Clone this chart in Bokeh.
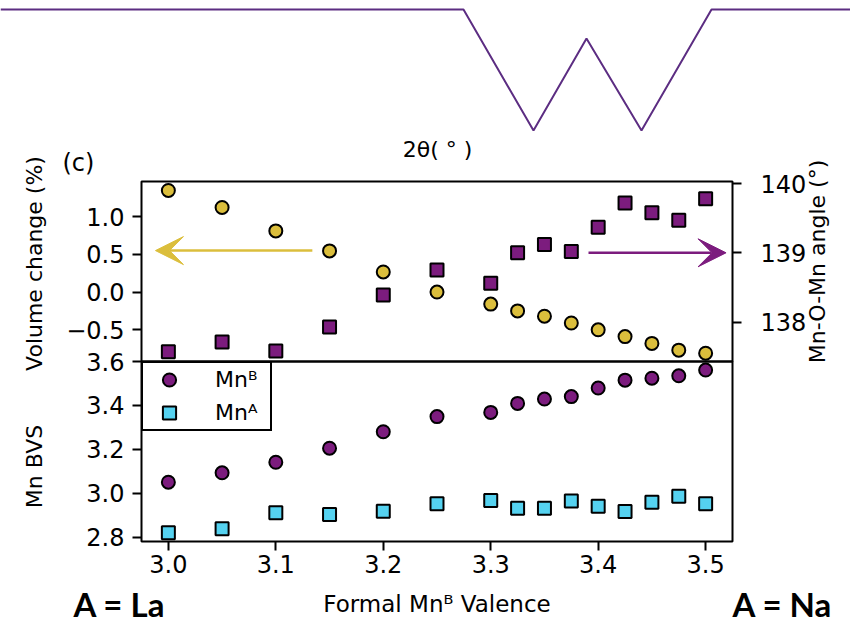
import math
from bokeh.plotting import figure
from bokeh.models import (Range1d, LinearAxis, FixedTicker, Arrow, VeeHead,
                          Legend, LegendItem)
from bokeh.core.properties import value
from bokeh.layouts import column
from bokeh.embed import file_html
from bokeh.resources import INLINE

# ---------------- data ----------------
valence = [3.0, 3.05, 3.1, 3.15, 3.2, 3.25, 3.3, 3.325, 3.35, 3.375, 3.4, 3.425, 3.45, 3.475, 3.5]
volume_change = [1.345, 1.12, 0.81, 0.545, 0.266, 0.0, -0.16, -0.25, -0.32, -0.41, -0.50, -0.59, -0.68, -0.77, -0.81]
mn_o_mn_angle = [137.57, 137.71, 137.58, 137.93, 138.39, 138.75, 138.56, 139.0, 139.12, 139.02, 139.37, 139.72, 139.58, 139.47, 139.78]
bvs_mn_b = [3.05, 3.093, 3.141, 3.205, 3.28, 3.349, 3.368, 3.409, 3.429, 3.44, 3.479, 3.515, 3.524, 3.535, 3.561]
bvs_mn_a = [2.82, 2.838, 2.911, 2.903, 2.918, 2.952, 2.967, 2.932, 2.932, 2.964, 2.941, 2.917, 2.959, 2.986, 2.952]

x_ticks = [3.0, 3.1, 3.2, 3.3, 3.4, 3.5]
x_tick_labels = ["3.0", "3.1", "3.2", "3.3", "3.4", "3.5"]
vol_ticks = [-0.5, 0.0, 0.5, 1.0]
vol_tick_labels = ["\u22120.5", "0.0", "0.5", "1.0"]
angle_ticks = [138, 139, 140]
angle_tick_labels = ["138", "139", "140"]
bvs_ticks = [2.8, 3.0, 3.2, 3.4, 3.6]
bvs_tick_labels = ["2.8", "3.0", "3.2", "3.4", "3.6"]

legend_labels = ["Mn\u1d2e", "Mn\u1d2c"]

# arrows (data space)
vol_arrow_x = [3.134, 2.988]
vol_arrow_y = [0.549, 0.549]
ang_arrow_x = [3.391, 3.519]
ang_arrow_y = [139.0, 139.0]

# decorative banner (page pixel space)
banner_x = [0, 463, 533, 586, 641, 711, 850]
banner_y = [9, 9, 130, 38, 130, 9, 9]

YELLOW = "#DBBE3C"
PURPLE = "#7C1C7E"
CYAN = "#55D2F0"
BANNER = "#5C2D82"
FONT = "DejaVu Sans"


def style_axis(ax, ticks, labels, label_standoff=10, label_size="22px"):
    ax.ticker = FixedTicker(ticks=ticks, minor_ticks=[])
    ax.major_label_overrides = dict(zip(ticks, labels))
    ax.major_tick_out = 9
    ax.major_tick_in = 0
    ax.minor_tick_out = 0
    ax.minor_tick_in = 0
    ax.major_tick_line_width = 2
    ax.major_tick_line_color = "black"
    ax.axis_line_color = None
    ax.major_label_text_font = FONT
    ax.major_label_text_font_size = "24px"
    ax.major_label_text_color = "black"
    ax.axis_label_text_font = FONT
    ax.axis_label_text_font_size = label_size
    ax.axis_label_text_font_style = "normal"
    ax.axis_label_text_color = "black"
    ax.axis_label_standoff = label_standoff


# ---------------- top panel ----------------
xr = Range1d(2.975, 3.525)
fa = figure(width=850, height=240, x_range=xr, y_range=Range1d(-0.92, 1.464),
            x_axis_location=None, y_axis_location="left", output_backend="svg",
            toolbar_location=None, min_border_left=141, min_border_right=118,
            min_border_top=41, min_border_bottom=19)
fa.margin = (140, 0, 0, 0)
fa.extra_y_ranges = {"angle": Range1d(137.43, 140.03)}
fa.xgrid.visible = False
fa.ygrid.visible = False
fa.outline_line_color = "black"
fa.outline_line_width = 2
fa.outline_line_alpha = 1

fa.scatter(valence, mn_o_mn_angle, marker="square", size=13, fill_color=PURPLE,
           line_color="black", line_width=2, y_range_name="angle")
fa.scatter(valence, volume_change, marker="circle", size=13, fill_color=YELLOW,
           line_color="black", line_width=2)

style_axis(fa.yaxis[0], vol_ticks, vol_tick_labels)
fa.yaxis[0].major_label_standoff = 8

ra = LinearAxis(y_range_name="angle")
style_axis(ra, angle_ticks, angle_tick_labels)
ra.major_label_standoff = 19
fa.add_layout(ra, "right")

fa.add_layout(Arrow(end=VeeHead(size=28, fill_color=YELLOW, line_color=YELLOW),
                    x_start=vol_arrow_x[0], y_start=vol_arrow_y[0],
                    x_end=vol_arrow_x[1], y_end=vol_arrow_y[1],
                    line_color=YELLOW, line_width=2.5))
fa.add_layout(Arrow(end=VeeHead(size=28, fill_color=PURPLE, line_color=PURPLE),
                    x_start=ang_arrow_x[0], y_start=ang_arrow_y[0],
                    x_end=ang_arrow_x[1], y_end=ang_arrow_y[1],
                    line_color=PURPLE, line_width=2.5, y_range_name="angle"))

# ---------------- bottom panel ----------------
fb = figure(width=850, height=280, x_range=xr, y_range=Range1d(2.78, 3.6),
            output_backend="svg", toolbar_location=None, min_border_left=141,
            min_border_right=118, min_border_top=19, min_border_bottom=81)
fb.margin = (-38, 0, 0, 0)
fb.background_fill_alpha = 0
fb.border_fill_alpha = 0
fb.xgrid.visible = False
fb.ygrid.visible = False
fb.outline_line_color = "black"
fb.outline_line_width = 2

rb = fb.scatter(valence, bvs_mn_b, marker="circle", size=13, fill_color=PURPLE,
                line_color="black", line_width=2)
rA = fb.scatter(valence, bvs_mn_a, marker="square", size=13, fill_color=CYAN,
                line_color="black", line_width=2)

style_axis(fb.yaxis[0], bvs_ticks, bvs_tick_labels)
fb.yaxis[0].major_label_standoff = 8

style_axis(fb.xaxis[0], x_ticks, x_tick_labels, 15, label_size="23px")
fb.xaxis[0].axis_label = "Formal Mn\u1d2e Valence"
fb.xaxis[0].major_label_standoff = 4

leg = Legend(items=[LegendItem(label=legend_labels[0], renderers=[rb]),
                    LegendItem(label=legend_labels[1], renderers=[rA])],
             location="top_left", margin=0, padding=0, spacing=0,
             glyph_width=52, glyph_height=33, label_standoff=20, label_width=55,
             label_text_font=FONT, label_text_font_size="22px", label_text_color="black",
             border_line_color="black", border_line_width=2, border_line_alpha=1,
             background_fill_color="white", background_fill_alpha=1)
fb.add_layout(leg)

# ---------------- page overlay: banner and free texts ----------------
fo = figure(width=850, height=622, x_range=Range1d(0, 850), y_range=Range1d(622, 0),
            x_axis_location=None, y_axis_location=None, output_backend="svg",
            toolbar_location=None, min_border_left=0, min_border_right=0,
            min_border_top=0, min_border_bottom=0)
fo.frame_align = False
fo.margin = (-622, 0, 0, 0)
fo.outline_line_color = None
fo.background_fill_alpha = 0
fo.border_fill_alpha = 0
fo.xgrid.visible = False
fo.ygrid.visible = False

fo.line(banner_x, banner_y, line_color=BANNER, line_width=2)

fo.text(x=[62], y=[162], text=["(c)"], text_font=value(FONT), text_font_size="24px",
        text_color="black", text_align="left", text_baseline="alphabetic")
fo.text(x=[437], y=[149], text=["2\u03b8( \u00b0 )"], text_font=value(FONT),
        text_font_size="22px", text_color="black", text_align="center",
        text_baseline="alphabetic")
# vertical axis titles
fo.text(x=[34, 34], y=[263, 466], text=["Volume change (%)", "Mn BVS"], angle=math.pi / 2,
        text_font=value(FONT), text_font_size="22px", text_color="black",
        text_align="center", text_baseline="alphabetic")
fo.text(x=[817], y=[261], text=["Mn-O-Mn angle (\u00b0)"], angle=math.pi / 2,
        text_font=value(FONT), text_font_size="22px", text_color="black",
        text_align="center", text_baseline="alphabetic")
fo.text(x=[119, 782], y=[603, 603], text=["A = La", "A = Na"], text_font=value("Lato"),
        text_font_style="bold", text_font_size="33px", text_color="black",
        text_align="center", text_baseline="alphabetic")

layout = column(fa, fb, fo, spacing=0)
open("out.html", "w").write(file_html(layout, INLINE))
